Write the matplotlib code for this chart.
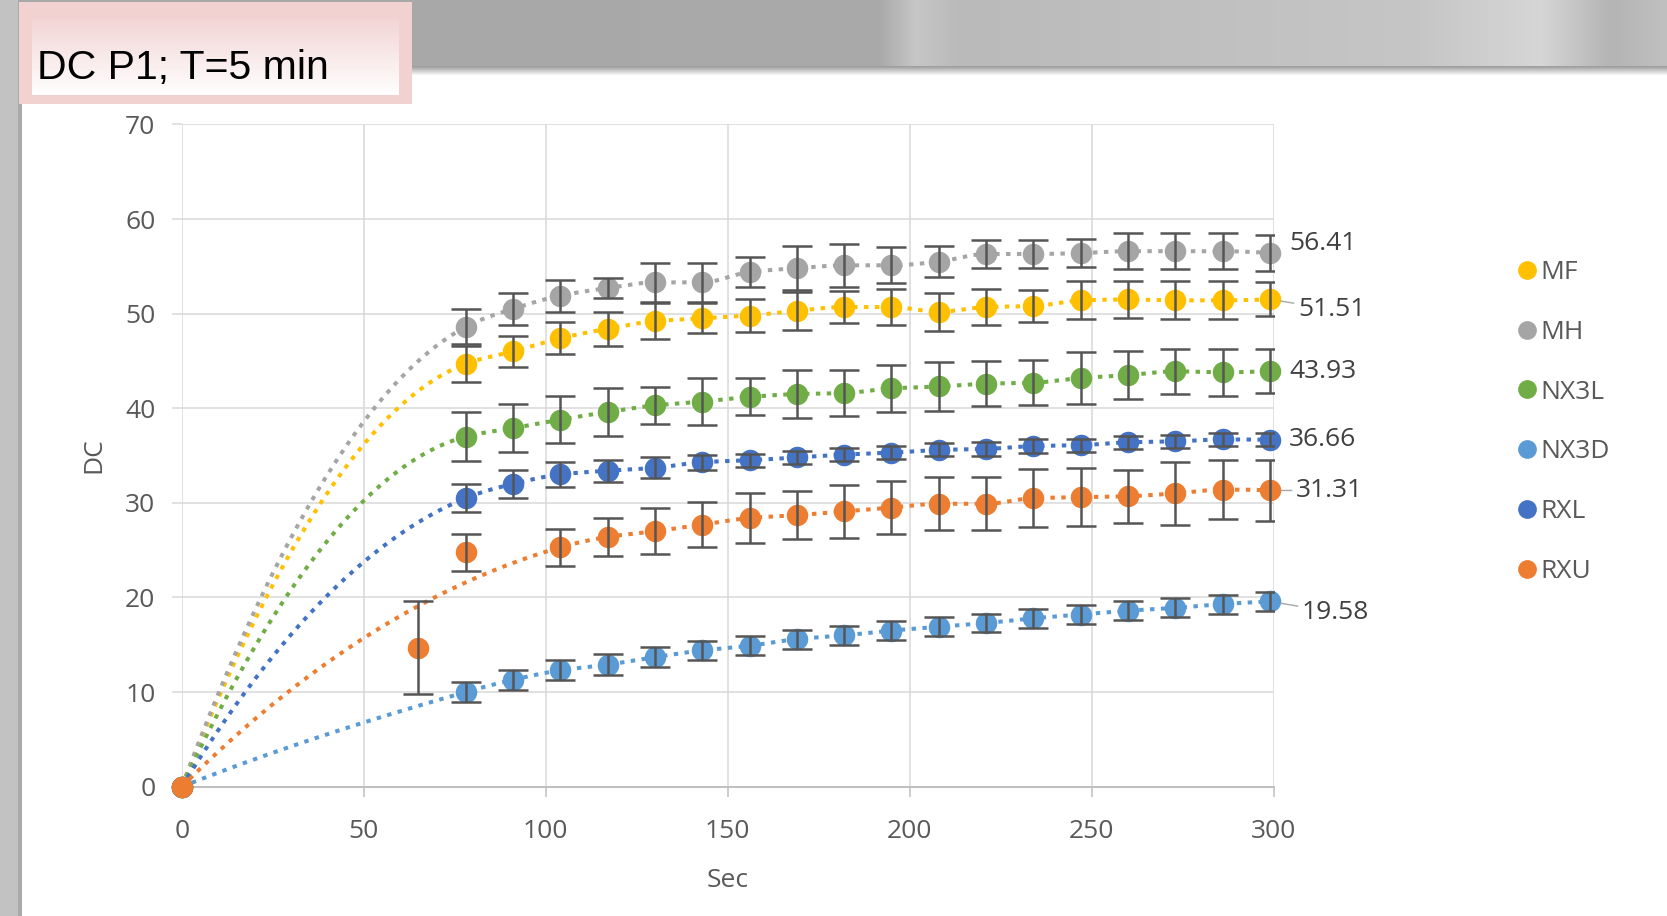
import numpy as np
import matplotlib
matplotlib.use("Agg")
import matplotlib.pyplot as plt
from matplotlib import font_manager
from matplotlib.patches import Rectangle
from matplotlib.lines import Line2D

nan = np.nan

# ---- data -------------------------------------------------------------
sec = [0, 65, 78, 91, 104, 117, 130, 143, 156, 169, 182, 195, 208, 221, 234, 247, 260, 273, 286, 299]

mf = [0, nan, 44.7, 46.0, 47.4, 48.4, 49.2, 49.5, 49.8, 50.3, 50.7, 50.7, 50.2, 50.7, 50.8, 51.4, 51.5, 51.4, 51.4, 51.51]
mf_err = [nan, nan, 1.9, 1.6, 1.7, 1.8, 1.9, 1.6, 1.7, 2.0, 1.7, 1.9, 2.0, 1.9, 1.7, 2.0, 2.0, 2.0, 2.0, 1.8]

mh = [0, nan, 48.6, 50.5, 51.9, 52.7, 53.3, 53.3, 54.4, 54.8, 55.1, 55.1, 55.5, 56.3, 56.3, 56.4, 56.6, 56.6, 56.6, 56.41]
mh_err = [nan, nan, 1.85, 1.7, 1.7, 1.1, 2.1, 2.1, 1.6, 2.3, 2.3, 1.9, 1.6, 1.5, 1.5, 1.5, 1.9, 1.9, 1.9, 1.9]

nx3l = [0, nan, 37.0, 37.9, 38.8, 39.6, 40.3, 40.7, 41.2, 41.5, 41.6, 42.1, 42.3, 42.6, 42.7, 43.2, 43.5, 43.9, 43.8, 43.93]
nx3l_err = [nan, nan, 2.6, 2.5, 2.5, 2.55, 1.95, 2.45, 1.95, 2.5, 2.4, 2.5, 2.55, 2.4, 2.4, 2.7, 2.5, 2.4, 2.5, 2.35]

nx3d = [0, nan, 10.0, 11.3, 12.3, 12.9, 13.7, 14.4, 14.9, 15.6, 16.0, 16.5, 16.9, 17.3, 17.8, 18.2, 18.6, 18.9, 19.3, 19.58]
nx3d_err = [nan, nan, 1.05, 1.05, 1.05, 1.1, 1.1, 1.0, 1.0, 1.0, 1.0, 1.0, 1.0, 1.0, 1.0, 1.0, 1.0, 1.0, 1.0, 1.05]

rxl = [0, nan, 30.5, 32.0, 33.0, 33.4, 33.7, 34.3, 34.5, 34.8, 35.1, 35.3, 35.6, 35.7, 36.0, 36.1, 36.4, 36.5, 36.7, 36.66]
rxl_err = [nan, nan, 1.45, 1.45, 1.35, 1.15, 1.1, 0.8, 0.7, 0.7, 0.7, 0.7, 0.7, 0.7, 0.7, 0.7, 0.7, 0.7, 0.7, 0.7]

rxu = [0, 14.7, 24.8, nan, 25.3, 26.4, 27.0, 27.7, 28.4, 28.7, 29.1, 29.5, 29.9, 29.9, 30.5, 30.6, 30.7, 31.0, 31.4, 31.31]
rxu_err = [nan, 4.95, 1.95, nan, 1.95, 2.0, 2.45, 2.4, 2.65, 2.55, 2.8, 2.8, 2.8, 2.8, 3.05, 3.05, 2.8, 3.3, 3.15, 3.2]
# early RXU readings left out of its trend curve
rxu_trend_skip = [65, 78]

series_names = ["MF", "MH", "NX3L", "NX3D", "RXL", "RXU"]
series_values = [mf, mh, nx3l, nx3d, rxl, rxu]
series_errors = [mf_err, mh_err, nx3l_err, nx3d_err, rxl_err, rxu_err]
trend_skips = [[], [], [], [], [], rxu_trend_skip]

colors = ["#FFC000", "#A5A5A5", "#70AD47", "#5B9BD5", "#4472C4", "#ED7D31"]
# offsets (pixels, y up) of the end-value labels, and whether a leader line is drawn
label_offsets = [(28, -10), (19, 9), (19, 0), (32, -11), (19, 0), (26, 0)]
label_leaders = [True, False, False, True, False, True]

title = "DC P1; T=5 min"
x_label = "Sec"
y_label = "DC"


def pchip(x, y, xs):
    """Monotone piecewise cubic Hermite interpolation."""
    x = np.asarray(x, float)
    y = np.asarray(y, float)
    h = np.diff(x)
    d = np.diff(y) / h
    n = len(x)
    m = np.zeros(n)
    for k in range(1, n - 1):
        if d[k - 1] * d[k] <= 0:
            m[k] = 0.0
        else:
            w1 = 2 * h[k] + h[k - 1]
            w2 = h[k] + 2 * h[k - 1]
            m[k] = (w1 + w2) / (w1 / d[k - 1] + w2 / d[k])

    def end_slope(h0, h1, d0, d1):
        s = ((2 * h0 + h1) * d0 - h0 * d1) / (h0 + h1)
        if np.sign(s) != np.sign(d0):
            return 0.0
        if np.sign(d0) != np.sign(d1) and abs(s) > abs(3 * d0):
            return 3 * d0
        return s

    m[0] = end_slope(h[0], h[1], d[0], d[1])
    m[-1] = end_slope(h[-1], h[-2], d[-1], d[-2])
    idx = np.clip(np.searchsorted(x, xs) - 1, 0, n - 2)
    t = (xs - x[idx]) / h[idx]
    h00 = 2 * t**3 - 3 * t**2 + 1
    h10 = t**3 - 2 * t**2 + t
    h01 = -2 * t**3 + 3 * t**2
    h11 = t**3 - t**2
    return (h00 * y[idx] + h10 * h[idx] * m[idx]
            + h01 * y[idx + 1] + h11 * h[idx] * m[idx + 1])


# ---- fonts ------------------------------------------------------------
plt.rcParams["font.family"] = ["Open Sans", "DejaVu Sans"]
installed = {f.name for f in font_manager.fontManager.ttflist}
if "Liberation Sans Narrow" in installed:
    title_family, title_size = "Liberation Sans Narrow", 35
else:
    title_family, title_size = "Liberation Sans", 29.5

W, H = 1667, 916
fig = plt.figure(figsize=(W / 100, H / 100), dpi=100, facecolor="white")

# ---- slide background -------------------------------------------------
bg = fig.add_axes([0, 0, 1, 1], zorder=-10)
bg.set_xlim(0, W)
bg.set_ylim(H, 0)
bg.axis("off")

band_x = np.arange(W)
band_stops_x = [0, 400, 880, 915, 960, 1200, 1420, 1540, 1610, 1667]
band_stops_v = [170, 168, 170, 198, 186, 192, 198, 214, 180, 192]
band_row = np.interp(band_x, band_stops_x, band_stops_v) / 255.0
band = np.tile(band_row, (66, 1))
bg.imshow(np.dstack([band] * 3), extent=(0, W, 66, 0), aspect="auto",
          interpolation="bilinear", zorder=0)
# soft shadow under the band
shade = np.linspace(0.0, 1.0, 10)[:, None] * np.ones((1, W))
shade_rgb = 0.62 + 0.38 * shade
bg.imshow(np.dstack([shade_rgb] * 3), extent=(0, W, 76, 66), aspect="auto",
          interpolation="bilinear", zorder=0)
# left strip
bg.add_patch(Rectangle((0, 0), 18, H, color="#c2c2c2", lw=0, zorder=1))
bg.add_patch(Rectangle((18, 60), 4, H, color="#a9a9a9", lw=0, zorder=1))

# title box
bg.add_patch(Rectangle((19, 2), 393, 102, color="#f2d1d1", lw=0, zorder=2))
grad = np.linspace(0, 1, 64)[:, None] * np.ones((1, 8))
top_c = np.array([0.953, 0.835, 0.835])
bot_c = np.array([1.0, 1.0, 1.0])
grad_rgb = top_c[None, None, :] * (1 - grad[..., None]) + bot_c[None, None, :] * grad[..., None]
bg.imshow(grad_rgb, extent=(32, 399, 95, 19), aspect="auto",
          interpolation="bilinear", zorder=3)
bg.set_xlim(0, W)
bg.set_ylim(H, 0)
fig.text(37 / W, 1 - 79 / H, title, fontsize=title_size, family=title_family,
         color="black", ha="left", va="baseline")

# ---- chart ------------------------------------------------------------
ax = fig.add_axes([181.8 / W, 1 - 786.7 / H, 1091.8 / W, 662.3 / H])
ax.patch.set_alpha(0)
ax.set_xlim(0, 300)
ax.set_ylim(0, 70)
ax.set_xticks(np.arange(0, 301, 50))
ax.set_yticks(np.arange(0, 71, 10))
ax.grid(True, color="#d9d9d9", lw=1.1, zorder=0)
ax.set_axisbelow(True)
for side in ("top", "right", "left"):
    ax.spines[side].set_visible(False)
ax.spines["bottom"].set_color("#bfbfbf")
ax.spines["bottom"].set_linewidth(1.4)
ax.tick_params(axis="both", colors="#595959", labelsize=19, length=7,
               width=1.1)
ax.tick_params(axis="x", color="#bfbfbf", pad=16)
ax.tick_params(axis="y", color="#d9d9d9", pad=12)

sec_arr = np.asarray(sec, float)
for name, vals, errs, skip, col in zip(series_names, series_values,
                                       series_errors, trend_skips, colors):
    v = np.asarray(vals, float)
    e = np.asarray(errs, float)
    keep = np.isfinite(v) & ~np.isin(sec_arr, skip)
    xs = np.linspace(0, sec_arr[keep][-1], 600)
    ax.plot(xs, pchip(sec_arr[keep], v[keep], xs), color=col, lw=2.9,
            linestyle=(0, (1.1, 1.6)), zorder=2)
    ok = np.isfinite(v)
    ax.plot(sec_arr[ok], v[ok], "o", color=col, markersize=15.5, mec=col,
            mew=0, zorder=3, clip_on=False)
    eb = np.isfinite(e) & ok
    ax.errorbar(sec_arr[eb], v[eb], yerr=e[eb], fmt="none", ecolor="#555555",
                elinewidth=1.8, capsize=10.5, capthick=1.8, zorder=4)

# end-value labels
for vals, (dx, dy), leader in zip(series_values, label_offsets, label_leaders):
    last = vals[-1]
    props = None
    if leader:
        props = dict(arrowstyle="-", color="#a6a6a6", lw=1.0,
                     shrinkA=1, shrinkB=8)
    ax.annotate(f"{last:.2f}", xy=(sec[-1], last), xytext=(dx, dy),
                textcoords="offset pixels", ha="left", va="center",
                fontsize=19, color="#404040", arrowprops=props,
                annotation_clip=False, zorder=5)

ax.set_xlabel(x_label, fontsize=19, color="#595959")
ax.set_ylabel(y_label, fontsize=19, color="#595959")
ax.xaxis.set_label_coords(0.5, -0.142)
ax.yaxis.set_label_coords(-0.0804, 0.5)
ax.xaxis.label.set_va("center")
ax.yaxis.label.set_va("center")

handles = [Line2D([], [], marker="o", linestyle="none", color=c,
                  markersize=13.5, mew=0) for c in colors]
leg = ax.legend(handles, series_names, loc="upper left",
                bbox_to_anchor=(1517 / W, 1 - 260 / H),
                bbox_transform=fig.transFigure, frameon=False,
                fontsize=19, labelcolor="#595959", handlelength=0.75,
                handletextpad=0.15, labelspacing=1.32, borderpad=0,
                borderaxespad=0)

fig.savefig("out.png", dpi=100, facecolor="white")
